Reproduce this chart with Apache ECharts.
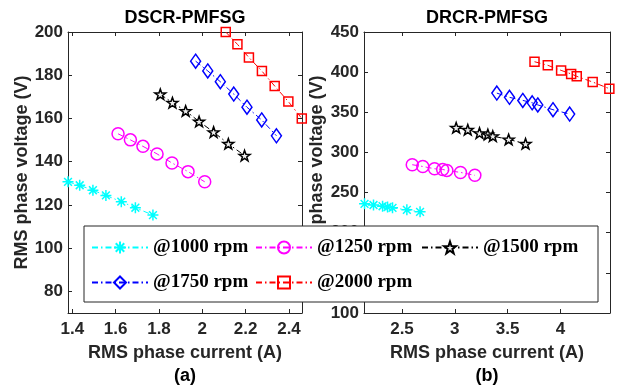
<!DOCTYPE html>
<html>
<head>
<meta charset="utf-8">
<script src="https://cdn.jsdelivr.net/npm/echarts@6/dist/echarts.min.js"></script>
<style>
  html, body { margin: 0; padding: 0; background: #fff; }
  #chart { width: 621px; height: 385px; }
</style>
</head>
<body>
<div id="chart"></div>
<script>
// (a) DSCR-PMFSG : current (A) / voltage (V)
const dscr1000I = [1.380, 1.434, 1.495, 1.555, 1.626, 1.691, 1.772];
const dscr1000V = [130.7, 129.1, 126.8, 124.4, 121.5, 118.7, 115.3];
const dscr1250I = [1.611, 1.668, 1.726, 1.791, 1.860, 1.934, 2.011];
const dscr1250V = [152.9, 150.1, 147.1, 143.6, 139.4, 135.4, 130.7];
const dscr1500I = [1.806, 1.862, 1.923, 1.985, 2.052, 2.120, 2.195];
const dscr1500V = [171.2, 167.3, 163.5, 158.6, 153.7, 148.3, 142.8];
const dscr1750I = [1.969, 2.025, 2.083, 2.145, 2.206, 2.274, 2.342];
const dscr1750V = [186.5, 182.0, 177.0, 171.3, 165.2, 159.3, 152.0];
const dscr2000I = [2.108, 2.162, 2.215, 2.275, 2.334, 2.397, 2.459];
const dscr2000V = [200.0, 194.3, 188.2, 181.9, 175.0, 167.8, 160.0];

// (b) DRCR-PMFSG
const drcr1000I = [2.145, 2.230, 2.316, 2.363, 2.410, 2.546, 2.671];
const drcr1000V = [236.0, 234.5, 233.0, 232.0, 231.0, 228.5, 226.0];
const drcr1250I = [2.597, 2.697, 2.808, 2.885, 2.925, 3.054, 3.190];
const drcr1250V = [284.7, 282.5, 279.7, 278.8, 277.6, 275.1, 271.5];
const drcr1500I = [3.013, 3.123, 3.234, 3.313, 3.360, 3.510, 3.670];
const drcr1500V = [330.8, 328.3, 324.1, 322.4, 320.3, 316.2, 310.8];
const drcr1750I = [3.398, 3.518, 3.644, 3.733, 3.786, 3.930, 4.088];
const drcr1750V = [373.9, 368.6, 364.8, 361.8, 359.2, 353.2, 347.8];
const drcr2000I = [3.755, 3.881, 4.007, 4.102, 4.155, 4.306, 4.464];
const drcr2000V = [413.0, 408.5, 402.2, 397.8, 394.8, 387.7, 379.4];

const speedNames = ['@1000 rpm', '@1250 rpm', '@1500 rpm', '@1750 rpm', '@2000 rpm'];
const xTicksA = [1.4, 1.6, 1.8, 2, 2.2, 2.4];
const yTicksA = [80, 100, 120, 140, 160, 180, 200];
const xTicksB = [2.5, 3, 3.5, 4];

const axisColor = '#262626';
const sansBold = { fontFamily: 'Liberation Sans', fontWeight: 'bold', color: axisColor };

// marker shapes (matlab style)
const asterisk = 'path://M0,-10L0,10M-10,0L10,0M-7.07,-7.07L7.07,7.07M-7.07,7.07L7.07,-7.07';
const star = 'path://M0,-10L2.35,-3.24L9.51,-3.09L3.8,1.24L5.88,8.09L0,4L-5.88,8.09L-3.8,1.24L-9.51,-3.09L-2.35,-3.24Z';

const styles = [
  { color: '#00FFFF', symbol: asterisk, size: 11, fill: '#00FFFF' },
  { color: '#FF00FF', symbol: 'circle', size: 12, fill: 'rgba(0,0,0,0)' },
  { color: '#000000', symbol: star, size: 11, fill: '#eeeeee' },
  { color: '#0000FF', symbol: 'diamond', size: [10, 14], fill: 'rgba(0,0,0,0)' },
  { color: '#FF0000', symbol: 'rect', size: 9, fill: 'rgba(0,0,0,0)' }
];

function pairs(xs, ys) {
  return xs.map((x, i) => [x, ys[i]]);
}

function makeSeries(idx, xs, ys, axisIdx) {
  const s = styles[idx];
  return {
    name: speedNames[idx],
    type: 'line',
    xAxisIndex: axisIdx,
    yAxisIndex: axisIdx,
    data: pairs(xs, ys),
    symbol: s.symbol,
    symbolSize: s.size,
    symbolKeepAspect: true,
    clip: false,
    lineStyle: { color: s.color, width: 1, type: [6, 3, 1.5, 3] },
    itemStyle: { color: s.fill, borderColor: s.color, borderWidth: 1.5 },
    emphasis: { disabled: true },
    z: 2
  };
}

function mainX(gridIndex, min, max, ticks) {
  return {
    type: 'value', gridIndex: gridIndex, min: min, max: max,
    name: 'RMS phase current (A)', nameLocation: 'middle', nameGap: 31,
    nameTextStyle: Object.assign({ fontSize: 18 }, sansBold),
    axisLine: { onZero: false, lineStyle: { color: axisColor, width: 1 } },
    axisTick: { inside: true, length: 4, customValues: ticks, lineStyle: { color: axisColor } },
    axisLabel: Object.assign({ fontSize: 17, margin: 8, customValues: ticks }, sansBold),
    splitLine: { show: false }
  };
}

function mirrorX(gridIndex, min, max, ticks) {
  return {
    type: 'value', gridIndex: gridIndex, min: min, max: max, position: 'top',
    axisLine: { onZero: false, lineStyle: { color: axisColor, width: 1 } },
    axisTick: { inside: true, length: 4, customValues: ticks, lineStyle: { color: axisColor } },
    axisLabel: { show: false },
    splitLine: { show: false }
  };
}

function mainY(gridIndex, min, max, ticks, interval, gap) {
  const ax = {
    type: 'value', gridIndex: gridIndex, min: min, max: max,
    name: 'RMS phase voltage (V)', nameLocation: 'middle', nameGap: gap,
    nameTextStyle: Object.assign({ fontSize: 18 }, sansBold),
    axisLine: { show: true, onZero: false, lineStyle: { color: axisColor, width: 1 } },
    axisTick: { show: true, inside: true, length: 4, lineStyle: { color: axisColor } },
    axisLabel: Object.assign({ fontSize: 17, margin: 5 }, sansBold),
    splitLine: { show: false }
  };
  if (ticks) {
    ax.axisTick.customValues = ticks;
    ax.axisLabel.customValues = ticks;
  } else {
    ax.interval = interval;
  }
  return ax;
}

function mirrorY(gridIndex, min, max, ticks, interval) {
  const ax = {
    type: 'value', gridIndex: gridIndex, min: min, max: max, position: 'right',
    axisLine: { show: true, onZero: false, lineStyle: { color: axisColor, width: 1 } },
    axisTick: { show: true, inside: true, length: 4, lineStyle: { color: axisColor } },
    axisLabel: { show: false },
    splitLine: { show: false }
  };
  if (ticks) ax.axisTick.customValues = ticks;
  else ax.interval = interval;
  return ax;
}

const legendFont = { fontFamily: 'Liberation Serif', fontWeight: 'bold', fontSize: 19, color: '#000' };
const legendPos = [[91, 238], [255, 238], [421, 238], [91, 273], [255, 273]];
const legends = speedNames.map((n, i) => ({
  data: [n],
  left: legendPos[i][0],
  top: legendPos[i][1],
  padding: 0,
  itemWidth: 56,
  itemHeight: 15,
  itemGap: 0,
  selectedMode: false,
  textStyle: legendFont,
  z: 6
}));

function label(text, x, y, size) {
  return {
    type: 'text', x: x, y: y, z: 6,
    style: {
      text: text, x: 0, y: 0,
      font: 'bold ' + size + 'px "Liberation Sans"',
      fill: '#000',
      align: 'center', verticalAlign: 'middle',
      textAlign: 'center', textVerticalAlign: 'middle'
    }
  };
}

const chart = echarts.init(document.getElementById('chart'), null, { renderer: 'canvas' });

chart.setOption({
  animation: false,
  backgroundColor: '#fff',
  grid: [
    { left: 68, top: 32, width: 234, height: 281 },
    { left: 364, top: 32, width: 246, height: 281 }
  ],
  xAxis: [
    mainX(0, 1.38, 2.46, xTicksA),
    mirrorX(0, 1.38, 2.46, xTicksA),
    mainX(1, 2.14, 4.47, xTicksB),
    mirrorX(1, 2.14, 4.47, xTicksB)
  ],
  yAxis: [
    mainY(0, 70, 200, yTicksA, null, 35),
    mirrorY(0, 70, 200, yTicksA, null),
    mainY(1, 100, 450, null, 50, 38),
    mirrorY(1, 100, 450, null, 50)
  ],
  legend: legends,
  graphic: [
    {
      type: 'rect', z: 4,
      shape: { x: 84, y: 226, width: 514, height: 76 },
      style: { fill: '#fff', stroke: axisColor, lineWidth: 1 }
    },
    label('DSCR-PMFSG', 185, 18, 18),
    label('DRCR-PMFSG', 487, 18, 18),
    label('(a)', 185, 376, 18),
    label('(b)', 487, 376, 18)
  ],
  series: [
    makeSeries(0, dscr1000I, dscr1000V, 0),
    makeSeries(1, dscr1250I, dscr1250V, 0),
    makeSeries(2, dscr1500I, dscr1500V, 0),
    makeSeries(3, dscr1750I, dscr1750V, 0),
    makeSeries(4, dscr2000I, dscr2000V, 0),
    makeSeries(0, drcr1000I, drcr1000V, 2),
    makeSeries(1, drcr1250I, drcr1250V, 2),
    makeSeries(2, drcr1500I, drcr1500V, 2),
    makeSeries(3, drcr1750I, drcr1750V, 2),
    makeSeries(4, drcr2000I, drcr2000V, 2)
  ]
});
</script>
</body>
</html>
